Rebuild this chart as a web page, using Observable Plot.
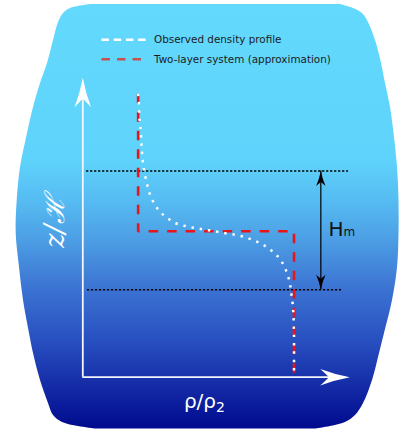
<!DOCTYPE html>
<html><head><meta charset="utf-8">
<script src="https://cdn.jsdelivr.net/npm/d3@7"></script>
<script src="https://cdn.jsdelivr.net/npm/@observablehq/plot@0.6"></script>
<style>
html,body{margin:0;padding:0;background:#fff;overflow:hidden;}
#wrap{position:relative;width:411px;height:429px;}
#wrap svg{display:block;position:absolute;left:0;top:0;}
</style></head><body><div id="wrap"></div>
<script>
// ---- data (x = rho/rho2, y = z/H) ----
const rhoObserved = [0.262,0.265,0.267,0.268,0.272,0.275,0.277,0.279,0.283,0.287,0.294,0.302,0.311,0.324,0.343,0.368,0.401,0.440,0.486,0.532,0.580,0.628,0.674,0.722,0.767,0.812,0.854,0.890,0.922,0.946,0.963,0.975,0.983,0.988,0.993,0.996,0.998,0.999,1.000,1.000];
const zObserved   = [1.000,0.974,0.943,0.915,0.887,0.859,0.830,0.802,0.772,0.744,0.715,0.688,0.661,0.633,0.606,0.582,0.561,0.543,0.533,0.526,0.520,0.514,0.508,0.502,0.494,0.482,0.467,0.449,0.427,0.402,0.375,0.348,0.320,0.292,0.263,0.235,0.207,0.179,0.151,0.008];
const rhoTwoLayer = [0.262,0.262,1.0,1.0];
const zTwoLayer   = [1.0,0.515,0.515,0.006];
const mixingZ      = [0.727,0.308];   // edges of the mixing layer (dotted guides)
const mixingStart  = [0.018,0.022];
const mixingEnd    = [1.258,1.225];
const hmRho        = 1.127;           // position of the H_m double arrow
const axisTipRho   = 1.264;
const axisTipZ     = 1.056;
const legendLabels = ["Observed density profile","Two-layer system (approximation)"];
// barrel-shaped backdrop outline
const outlineZ     = [1.3146,1.3005,1.2829,1.2511,1.1877,1.1065,1.0360,0.9513,0.8596,0.7397,0.6233,0.5069,0.3869,0.2705,0.1541,0.0836,-0.0116,-0.0928,-0.1351,-0.1598,-0.1739,-0.1827];
const outlineLeft  = [0.0365,-0.0582,-0.0914,-0.1151,-0.1387,-0.1671,-0.2003,-0.2334,-0.2618,-0.2950,-0.3106,-0.3153,-0.2997,-0.2808,-0.2524,-0.2334,-0.2003,-0.1624,-0.1387,-0.0961,-0.0204,0.0601];
const outlineRight = [1.2202,1.2817,1.3243,1.3527,1.3859,1.4143,1.4332,1.4569,1.4735,1.4901,1.4972,1.4972,1.4901,1.4664,1.4285,1.4048,1.3717,1.3291,1.2912,1.2438,1.1728,1.1018];

const observed = rhoObserved.map((rho,i)=>({rho, z:zObserved[i]}));
const twoLayer = rhoTwoLayer.map((rho,i)=>({rho, z:zTwoLayer[i]}));
const guides = mixingZ.map((z,i)=>({z, x1:mixingStart[i], x2:mixingEnd[i]}));
const outline = outlineZ.map((z,i)=>({z, left:outlineLeft[i], right:outlineRight[i]}));

// arrowhead symbols (tip at the symbol origin)
const arrowUp = {draw(c){c.moveTo(0,0);c.quadraticCurveTo(3,16,8.2,29.5);c.quadraticCurveTo(2.5,23,0,21);c.quadraticCurveTo(-2.5,23,-8.2,29.5);c.quadraticCurveTo(-3,16,0,0);c.closePath();}};
const arrowRight = {draw(c){c.moveTo(0,0);c.quadraticCurveTo(-16,3,-29.5,8.2);c.quadraticCurveTo(-23,2.5,-21,0);c.quadraticCurveTo(-23,-2.5,-29.5,-8.2);c.quadraticCurveTo(-16,-3,0,0);c.closePath();}};
const smallUp = {draw(c){c.moveTo(0,0);c.quadraticCurveTo(1.6,8,4.7,15);c.quadraticCurveTo(1.3,12,0,11);c.quadraticCurveTo(-1.3,12,-4.7,15);c.quadraticCurveTo(-1.6,8,0,0);c.closePath();}};
const smallDown = {draw(c){c.moveTo(0,0);c.quadraticCurveTo(1.6,-8,4.7,-15);c.quadraticCurveTo(1.3,-12,0,-11);c.quadraticCurveTo(-1.3,-12,-4.7,-15);c.quadraticCurveTo(-1.6,-8,0,0);c.closePath();}};

const chart = Plot.plot({
  width: 411, height: 429, margin: 0,
  style: {background: "transparent"},
  x: {domain: [-0.3897, 1.5563], axis: null},
  y: {domain: [-0.1845, 1.3287], axis: null},
  marks: [
    Plot.areaX(outline, {y: "z", x1: "left", x2: "right", fill: "url(#bgGrad)", curve: "catmull-rom"}),
    Plot.ruleY(guides, {y: "z", x1: "x1", x2: "x2", stroke: "#000", strokeWidth: 1.5, strokeDasharray: "2.2,1.8", strokeLinecap: "butt"}),
    Plot.ruleX([hmRho], {y1: mixingZ[1], y2: mixingZ[0], stroke: "#000", strokeWidth: 1.2}),
    Plot.dot([{rho: hmRho, z: mixingZ[0]}], {x: "rho", y: "z", symbol: smallUp, fill: "#000", stroke: "none", r: 5}),
    Plot.dot([{rho: hmRho, z: mixingZ[1]}], {x: "rho", y: "z", symbol: smallDown, fill: "#000", stroke: "none", r: 5}),
    Plot.ruleY([0], {x1: 0, x2: axisTipRho - 0.05, stroke: "#f4f6fb", strokeWidth: 1.8}),
    Plot.ruleX([0], {y1: 0, y2: axisTipZ - 0.04, stroke: "#f4f6fb", strokeWidth: 1.8}),
    Plot.dot([{rho: 0, z: axisTipZ}], {x: "rho", y: "z", symbol: arrowUp, fill: "#fff", stroke: "none", r: 5}),
    Plot.dot([{rho: axisTipRho, z: 0}], {x: "rho", y: "z", symbol: arrowRight, fill: "#fff", stroke: "none", r: 5}),
    Plot.line(twoLayer, {x: "rho", y: "z", stroke: "#e8151b", strokeWidth: 2.6, strokeDasharray: "9.5,9", strokeLinecap: "butt", strokeLinejoin: "miter"}),
    Plot.line(observed, {x: "rho", y: "z", stroke: "#fff", strokeWidth: 2.5, strokeDasharray: "2.4,5.9", strokeLinecap: "butt", curve: "catmull-rom"}),
    Plot.text([{rho: 0.576, z: -0.1093, t: "ρ/ρ₂"}], {x: "rho", y: "z", text: "t", fill: "#fff", fontSize: 20, fontFamily: "DejaVu Sans", lineAnchor: "bottom"}),
    Plot.text([{rho: -0.1293, z: 0.549, t: "z/ℋ"}], {x: "rho", y: "z", text: "t", fill: "#fff", fontSize: 27, fontFamily: "DejaVu Serif", fontStyle: "italic", rotate: -90}),
    Plot.text([{rho: 1.1634, z: 0.4963, t: "H"}], {x: "rho", y: "z", text: "t", fill: "#111", fontSize: 20, fontFamily: "DejaVu Sans", textAnchor: "start", lineAnchor: "bottom"}),
    Plot.text([{rho: 1.2344, z: 0.4963, t: "m"}], {x: "rho", y: "z", text: "t", fill: "#111", fontSize: 12, fontFamily: "DejaVu Sans", textAnchor: "start", lineAnchor: "bottom"})
  ]
});
d3.select(chart).insert("defs", ":first-child").html(`
  <linearGradient id="bgGrad" x1="0" y1="0" x2="0" y2="1">
    <stop offset="0" stop-color="#63d9fd"/>
    <stop offset="0.367" stop-color="#5fd3fb"/>
    <stop offset="0.462" stop-color="#56bcf2"/>
    <stop offset="0.556" stop-color="#4c9ee4"/>
    <stop offset="0.674" stop-color="#3b72d2"/>
    <stop offset="0.792" stop-color="#2850c0"/>
    <stop offset="0.886" stop-color="#1730aa"/>
    <stop offset="1" stop-color="#000a8e"/>
  </linearGradient>`);
// render the subscript of the x label as a real subscript
d3.select(chart).selectAll("text").filter(function(){ return this.textContent === "ρ/ρ₂"; })
  .each(function(){
    const t = d3.select(this);
    t.text("ρ/ρ");
    t.append("tspan").attr("font-size", 14).attr("dy", 4).text("2");
  });
document.getElementById("wrap").appendChild(chart);

// legend overlay
const overlay = d3.select("#wrap").append("svg").attr("width", 411).attr("height", 429)
  .style("pointer-events", "none");
const swatches = [
  {stroke: "#ffffff", dash: "7.5,4.7", len: 44.1},
  {stroke: "#c8504f", dash: "8.5,7", len: 39.5}
];
legendLabels.forEach((label, i) => {
  const g = overlay.append("g").attr("transform", `translate(101.5,${39.7 + i * 19.6})`);
  g.append("line").attr("x1", 0).attr("x2", swatches[i].len).attr("y1", 0).attr("y2", 0)
    .attr("stroke", swatches[i].stroke).attr("stroke-width", 2.5).attr("stroke-dasharray", swatches[i].dash);
  g.append("text").attr("x", 52.5).attr("y", 3.6).attr("font-family", "DejaVu Sans")
    .attr("font-size", 10.4).attr("fill", "#1c1c1c").text(label);
});
</script></body></html>
